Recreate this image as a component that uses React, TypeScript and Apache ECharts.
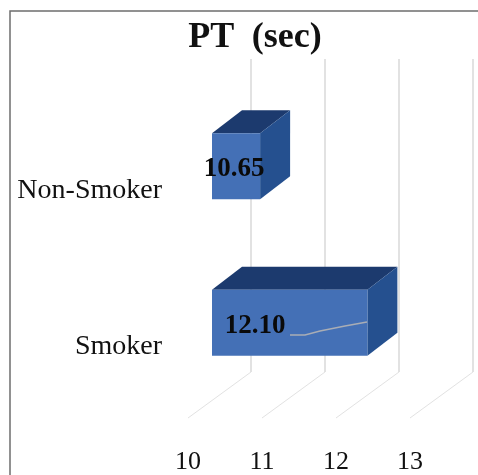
import React, { useEffect, useRef } from "react";
import * as echarts from "echarts";

const categories = ["Smoker", "Non-Smoker"];
const values = [12.1, 10.65];
const xTicks = [10, 11, 12, 13];
const titleText = "PT  (sec)";
const labelOffsets = [43, 22];

const FONT = '"Liberation Serif", serif';

export default function App() {
  const ref = useRef<HTMLDivElement>(null);
  useEffect(() => {
    const chart = echarts.init(ref.current!, undefined, { renderer: "svg" });
    const DX = 30, DY = 23;
    chart.setOption({
      animation: false,
      backgroundColor: "#fff",
      title: {
        text: titleText, left: 250, top: 12, textAlign: "center",
        textStyle: { fontFamily: FONT, fontSize: 36, fontWeight: "bold", color: "#111" },
      },
      graphic: [
        { type: "rect", shape: { x: 10, y: 11, width: 490, height: 490 }, style: { fill: "none", stroke: "#6e6e6e", lineWidth: 1.5 }, z: 10 },
        { type: "polyline", shape: { points: [[290, 335], [305, 335], [320, 331], [345, 326], [367, 322]] }, style: { fill: "none", stroke: "#a9adb5", lineWidth: 1.5 }, z: 20 },
      ],
      grid: { left: 188, width: 222, top: 110, height: 313 },
      xAxis: {
        type: "value", min: 10, max: 13, interval: 1,
        axisLine: { show: false }, axisTick: { show: false }, splitLine: { show: false },
        axisLabel: { fontFamily: FONT, fontSize: 26, color: "#111", margin: 24 },
      },
      yAxis: {
        type: "category", data: categories,
        axisLine: { show: false }, axisTick: { show: false }, splitLine: { show: false },
        axisLabel: { fontFamily: FONT, fontSize: 28, color: "#111", margin: 26 },
      },
      series: [
        {
          type: "custom", z: 1, silent: true,
          data: xTicks.map((t) => [t, categories[0]]),
          encode: { x: 0, y: 1 },
          renderItem: (_p: any, api: any) => {
            const x = api.coord([api.value(0), 0])[0];
            return {
              type: "group",
              children: [
                { type: "line", shape: { x1: x + 63, y1: 59, x2: x + 63, y2: 372 }, style: { stroke: "#d9d9d9", fill: "none", lineWidth: 1.5 } },
                { type: "line", shape: { x1: x + 63, y1: 372, x2: x, y2: 418 }, style: { stroke: "#e2e2e2", fill: "none", lineWidth: 1 } },
              ],
            };
          },
        },
        {
          type: "custom", z: 2, silent: true,
          data: values.map((v, i) => [v, categories[i]]),
          encode: { x: 0, y: 1 },
          renderItem: (p: any, api: any) => {
            const pt = api.coord([api.value(0), api.value(1)]);
            const x0 = api.coord([xTicks[0], api.value(1)])[0] + 24;
            const x1 = pt[0] + 24;
            const yc = pt[1] - 22;
            const h = 66;
            const t = yc - h / 2, b = yc + h / 2;
            return {
              type: "group",
              children: [
                { type: "polygon", shape: { points: [[x0, t], [x0 + DX, t - DY], [x1 + DX, t - DY], [x1, t]] }, style: { fill: "#1c3a6e" } },
                { type: "polygon", shape: { points: [[x1, t], [x1 + DX, t - DY], [x1 + DX, b - DY], [x1, b]] }, style: { fill: "#25508f" } },
                { type: "rect", shape: { x: x0, y: t, width: x1 - x0, height: h }, style: { fill: "#4470b6" } },
                {
                  type: "text", z2: 5,
                  style: {
                    text: api.value(0).toFixed(2), x: x0 + labelOffsets[p.dataIndex], y: yc + 1,
                    textAlign: "center", textVerticalAlign: "middle",
                    font: `bold 27px ${FONT}`, fill: "#0a0a0a",
                  },
                },
              ],
            };
          },
        },
      ],
    });
    return () => chart.dispose();
  }, []);
  return <div ref={ref} style={{ position: "fixed", left: 0, top: 0, width: 478, height: 475, filter: "blur(0.5px)" }} />;
}
